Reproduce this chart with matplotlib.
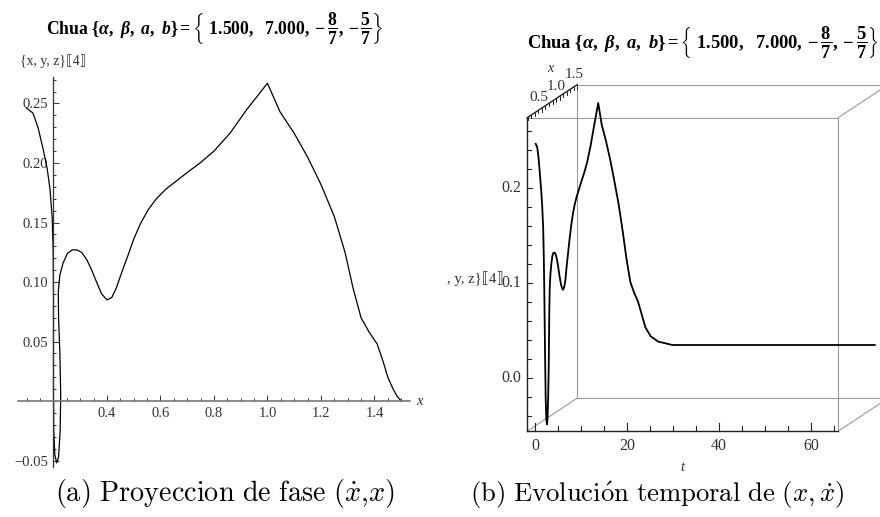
import numpy as np
import matplotlib
matplotlib.use('Agg')
import matplotlib.pyplot as plt
from matplotlib.ticker import MultipleLocator, FixedLocator

# Chua trajectory: time, x and the 4th component
phase_t = [0.0, 0.15, 0.3, 0.45, 0.6, 0.75, 0.9, 1.0, 1.1, 1.2, 1.3, 1.4, 1.5,
           1.58, 1.65, 1.75, 1.85, 1.95, 2.05, 2.15, 2.25, 2.35, 2.45, 2.55,
           2.65, 2.75, 2.9, 3.05, 3.2, 3.4, 3.6, 3.75, 3.9, 4.0, 4.15, 4.3,
           4.45, 4.6, 4.75, 4.95, 5.15, 5.35, 5.6, 5.85, 6.1, 6.4, 6.7, 7.1,
           7.6, 8.1, 8.6, 9.2, 9.8, 10.4, 11.0, 11.6, 12.2, 12.8, 13.5, 14.5,
           16.0, 19.0, 30.0, 40.0, 50.0, 63.0]
phase_x = [0.100, 0.123, 0.142, 0.160, 0.176, 0.187, 0.195, 0.199, 0.200, 0.200,
           0.200, 0.201, 0.205, 0.212, 0.219, 0.225, 0.227, 0.224, 0.219, 0.218,
           0.224, 0.236, 0.252, 0.270, 0.287, 0.305, 0.324, 0.343, 0.361, 0.380,
           0.400, 0.418, 0.435, 0.455, 0.478, 0.500, 0.525, 0.555, 0.585, 0.620,
           0.660, 0.700, 0.748, 0.800, 0.860, 0.923, 1.000, 1.047, 1.100, 1.150,
           1.200, 1.250, 1.290, 1.320, 1.350, 1.380, 1.410, 1.430, 1.450, 1.470,
           1.485, 1.500, 1.500, 1.500, 1.500, 1.500]
phase_v = [0.246, 0.242, 0.230, 0.213, 0.196, 0.178, 0.155, 0.125, 0.090, 0.050,
           0.010, -0.025, -0.045, -0.052, -0.047, -0.025, 0.005, 0.040, 0.070,
           0.092, 0.106, 0.116, 0.124, 0.127, 0.127, 0.125, 0.119, 0.110, 0.100,
           0.090, 0.085, 0.087, 0.095, 0.108, 0.122, 0.136, 0.149, 0.161, 0.170,
           0.178, 0.185, 0.192, 0.200, 0.210, 0.225, 0.245, 0.267, 0.243, 0.225,
           0.205, 0.182, 0.155, 0.125, 0.095, 0.070, 0.058, 0.048, 0.035, 0.020,
           0.010, 0.004, 0.000, 0.000, 0.000, 0.000, 0.000]

x_major = [0.4, 0.6, 0.8, 1.0, 1.2, 1.4]
v_major = [-0.05, 0.05, 0.10, 0.15, 0.20, 0.25]
v_labels = ['\u22120.05', '0.05', '0.10', '0.15', '0.20', '0.25']

t_major = [0, 20, 40, 60]
v3_major = [0.0, 0.1, 0.2]
x3_major = [0.5, 1.0, 1.5]

title = (r'$\mathrm{Chua}\ \{\alpha,\ \beta,\ a,\ b\} = '
         r'\left\{\ 1.500,\ \ 7.000, -\dfrac{8}{7}, -\dfrac{5}{7}\right\}$')
comp_label = '{x, y, z}\u27e64\u27e7'

serif = ['Liberation Serif', 'DejaVu Sans']
plt.rcParams['font.family'] = serif
plt.rcParams['mathtext.fontset'] = 'custom'
plt.rcParams['mathtext.rm'] = 'Liberation Serif:bold'
plt.rcParams['mathtext.it'] = 'Liberation Serif:italic:bold'
plt.rcParams['mathtext.bf'] = 'Liberation Serif:bold'

W, H = 880, 517
fig = plt.figure(figsize=(W / 100, H / 100), dpi=100)
renderer = fig.canvas.get_renderer()
GREY = '#333333'


def frac_box(x0, x1, ytop, ybot):
    return [x0 / W, 1 - ybot / H, (x1 - x0) / W, (ybot - ytop) / H]


def fit_width(txt, width_px):
    # scale a text so that it spans the width measured on the reference
    bb = txt.get_window_extent(renderer)
    txt.set_fontsize(txt.get_fontsize() * width_px / bb.width)


# ---------------- (a) phase projection ----------------
ax1 = fig.add_axes(frac_box(17.9, 410.0, 77.3, 466.5))
ax1.plot(phase_x, phase_v, color='black', lw=0.9, clip_on=False)
ax1.set_xlim(0.067, 1.533)
ax1.set_ylim(-0.055, 0.272)
ax1.patch.set_visible(False)
for s in ['top', 'right']:
    ax1.spines[s].set_visible(False)
ax1.spines['left'].set_position(('data', 0.2))
ax1.spines['bottom'].set_position(('data', 0.0))
ax1.spines['left'].set_color(GREY)
ax1.spines['bottom'].set_color('#777777')
ax1.spines['left'].set_linewidth(0.9)
ax1.spines['bottom'].set_linewidth(1.2)
ax1.xaxis.set_major_locator(FixedLocator(x_major))
ax1.xaxis.set_minor_locator(MultipleLocator(0.05))
ax1.set_xticklabels(['%.1f' % v for v in x_major])
ax1.yaxis.set_major_locator(FixedLocator(v_major))
ax1.yaxis.set_minor_locator(MultipleLocator(0.01))
ax1.set_yticklabels(v_labels)
ax1.tick_params(which='both', direction='in', color=GREY, width=0.7,
                labelsize=10.5, labelcolor=GREY, pad=4)
ax1.tick_params(which='major', length=4)
ax1.tick_params(which='minor', length=2.5)
ax1.text(1.555, 0.0, 'x', style='italic', fontsize=10.5, color=GREY,
         va='center', ha='left')
t = fig.text(20 / W, 1 - 61 / H, comp_label, fontsize=10, color=GREY,
             va='center', ha='left')
fit_width(t, 67)
t = fig.text(215 / W, 1 - 28 / H, title, fontsize=12, ha='center',
             va='center')
fit_width(t, 334)
t = fig.text(225 / W, 1 - 493 / H,
             r'$\mathrm{(a)\ Proyeccion\ de\ fase\ (}\dot{x}\mathrm{,}x\mathrm{)}$',
             fontsize=16, ha='center', va='center', math_fontfamily='cm')
fit_width(t, 340)

# ---------------- (b) time evolution, oblique 3D box ----------------
T0, T1 = -1.7, 65.9
V0, V1 = -0.056, 0.274
X0, X1 = 0.08, 1.5
KX = 50 / 4.6 / (X1 - X0)
KV = 33 / 950 / (X1 - X0)


def proj(t, x, v):
    t = np.asarray(t, float)
    x = np.asarray(x, float)
    v = np.asarray(v, float)
    return t + KX * (x - X0), v + KV * (x - X0)


ax2 = fig.add_axes(frac_box(440, 880, 55, 460))
ax2.set_xlim((440 - 535) / 4.6, (880 - 535) / 4.6)
ax2.set_ylim((378 - 460) / 950, (378 - 55) / 950)
ax2.axis('off')

box = '#9a9a9a'
edges = [((T0, X0, V1), (T1, X0, V1)), ((T1, X0, V0), (T1, X0, V1)),
         ((T0, X1, V0), (T1, X1, V0)), ((T0, X1, V1), (T1, X1, V1)),
         ((T0, X1, V0), (T0, X1, V1)), ((T1, X1, V0), (T1, X1, V1)),
         ((T0, X0, V0), (T0, X1, V0)), ((T1, X0, V0), (T1, X1, V0)),
         ((T1, X0, V1), (T1, X1, V1))]
for a, b in edges:
    px, py = proj([a[0], b[0]], [a[1], b[1]], [a[2], b[2]])
    ax2.plot(px, py, color=box, lw=0.8, clip_on=False)

# axis edges
for a, b in [((T0, X0, V0), (T1, X0, V0)), ((T0, X0, V0), (T0, X0, V1)),
             ((T0, X0, V1), (T0, X1, V1))]:
    px, py = proj([a[0], b[0]], [a[1], b[1]], [a[2], b[2]])
    ax2.plot(px, py, color='#222222', lw=1.0, clip_on=False)

# t ticks
for tv in np.arange(0, 66, 5):
    ln = 8 if tv in t_major else 5
    px, py = proj([tv, tv], [X0, X0], [V0, V0 + ln / 950])
    ax2.plot(px, py, color='#222222', lw=0.8)
for tv in t_major:
    px, py = proj(tv, X0, V0)
    ax2.text(px, py - 15 / 950, str(tv), fontsize=11.5, color=GREY,
             ha='center', va='center')
px, py = proj(32, X0, V0)
ax2.text(px, py - 36 / 950, 't', style='italic', fontsize=10.5,
         color=GREY, ha='center', va='center')

# vertical ticks
for v in np.arange(-0.04, 0.27, 0.02):
    ln = 5 if np.isclose(v, v3_major).any() else 4
    px, py = proj([T0, T0 + ln / 4.6], [X0, X0], [v, v])
    ax2.plot(px, py, color='#222222', lw=0.8)
for v in v3_major:
    px, py = proj(T0, X0, v)
    ax2.text(px - 6 / 4.6, py, '%.1f' % v, fontsize=11.5, color=GREY,
             ha='right', va='center')
px, py = proj(T0, X0, 0.1)
t = ax2.text(px - 24 / 4.6, py + 4 / 950, ', y, z}\u27e64\u27e7',
             fontsize=10.5, color=GREY, ha='right', va='center')
fit_width(t, 57)

# depth ticks
for x in np.arange(0.1, 1.51, 0.1):
    ln = 4 if np.isclose(x, x3_major).any() else 3
    px, py = proj([T0, T0], [x, x], [V1, V1 - ln / 950])
    ax2.plot(px, py, color='#222222', lw=0.7)
for x in x3_major:
    px, py = proj(T0, x, V1)
    ax2.text(px - 3 / 4.6, py + 10 / 950, '%.1f' % x, fontsize=11,
             color=GREY, ha='center', va='center')
px, py = proj(T0, 0.85, V1)
ax2.text(px - 4 / 4.6, py + 31 / 950, 'x', style='italic', fontsize=10,
         color=GREY, ha='center', va='center')

# trajectory
cx, cy = proj(phase_t, phase_x, phase_v)
ax2.plot(cx, cy, color='black', lw=1.3, clip_on=False)

t = fig.text(703 / W, 1 - 42 / H, title, fontsize=12, ha='center',
             va='center')
fit_width(t, 350)
t = fig.text(657 / W, 1 - 495 / H,
             r'$\mathrm{(b)\ Evoluci\acute{o}n\ temporal\ de\ }(x,\dot{x})$',
             fontsize=16, ha='center', va='center', math_fontfamily='cm')
fit_width(t, 375)

fig.savefig('out.png', dpi=100)
